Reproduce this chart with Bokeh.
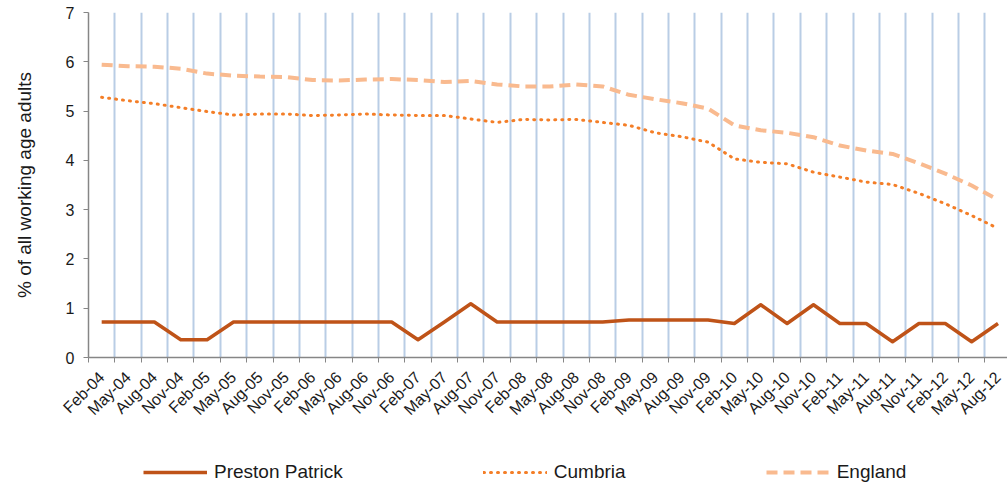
from bokeh.plotting import figure
from bokeh.layouts import column
from bokeh.models import FixedTicker, Legend, LegendItem, Range1d
from bokeh.embed import file_html
from bokeh.resources import INLINE

periods = ["Feb-04", "May-04", "Aug-04", "Nov-04", "Feb-05", "May-05", "Aug-05", "Nov-05",
           "Feb-06", "May-06", "Aug-06", "Nov-06", "Feb-07", "May-07", "Aug-07", "Nov-07",
           "Feb-08", "May-08", "Aug-08", "Nov-08", "Feb-09", "May-09", "Aug-09", "Nov-09",
           "Feb-10", "May-10", "Aug-10", "Nov-10", "Feb-11", "May-11", "Aug-11", "Nov-11",
           "Feb-12", "May-12", "Aug-12"]

preston_patrick = [0.72, 0.72, 0.72, 0.36, 0.36, 0.72, 0.72, 0.72, 0.72, 0.72, 0.72, 0.72,
                   0.36, 0.72, 1.09, 0.72, 0.72, 0.72, 0.72, 0.72, 0.76, 0.76, 0.76, 0.76,
                   0.69, 1.07, 0.69, 1.07, 0.69, 0.69, 0.32, 0.69, 0.69, 0.32, 0.69]

cumbria = [5.28, 5.21, 5.15, 5.07, 4.99, 4.92, 4.94, 4.94, 4.91, 4.92, 4.94, 4.92,
           4.91, 4.91, 4.84, 4.77, 4.83, 4.82, 4.83, 4.77, 4.71, 4.56, 4.48, 4.37,
           4.03, 3.96, 3.93, 3.76, 3.66, 3.56, 3.51, 3.33, 3.12, 2.88, 2.62]

england = [5.94, 5.91, 5.90, 5.86, 5.76, 5.72, 5.70, 5.69, 5.63, 5.62, 5.64, 5.65,
           5.63, 5.59, 5.61, 5.54, 5.50, 5.50, 5.54, 5.50, 5.33, 5.24, 5.16, 5.05,
           4.71, 4.61, 4.56, 4.47, 4.30, 4.20, 4.13, 3.94, 3.73, 3.49, 3.20]

series_names = ["Preston Patrick", "Cumbria", "England"]
y_ticks = [0, 1, 2, 3, 4, 5, 6, 7]

FONT = "Liberation Sans"
n = len(periods)
xs = [i + 0.5 for i in range(n)]
series_values = {"Preston Patrick": preston_patrick, "Cumbria": cumbria, "England": england}

STYLES = {
    "Preston Patrick": dict(line_color="#BF5318", line_width=3.5, line_join="round"),
    "Cumbria": dict(line_color="#F47E27", line_width=3, line_dash="1 6", line_cap="round"),
    "England": dict(line_color="#F9BA8F", line_width=4, line_dash="11 6"),
}

p = figure(width=1007, height=440, output_backend="svg", toolbar_location=None,
           x_range=Range1d(0, 34.86), y_range=Range1d(0, 7),
           min_border_left=88, min_border_right=0, min_border_top=12, min_border_bottom=83)
p.outline_line_color = None
p.background_fill_color = "white"

# x axis: labels at category centres, ticks at category boundaries
p.xaxis.ticker = FixedTicker(ticks=xs, minor_ticks=list(range(n + 1)))
p.xaxis.major_label_overrides = {x: lab for x, lab in zip(xs, periods)}
p.xaxis.major_label_orientation = 0.785398
p.xaxis.major_tick_out = 0
p.xaxis.major_tick_in = 0
p.xaxis.major_tick_line_color = None
p.xaxis.minor_tick_out = 5
p.xaxis.minor_tick_in = 0
p.xaxis.minor_tick_line_color = "#868686"
p.xaxis.minor_tick_line_width = 1
p.xaxis.axis_line_color = "#868686"
p.xaxis.axis_line_width = 1.5
p.xaxis.major_label_standoff = 12
p.xaxis.major_label_text_font = FONT
p.xaxis.major_label_text_font_size = "16px"
p.xaxis.major_label_text_color = "#1a1a1a"

# y axis
p.yaxis.ticker = FixedTicker(ticks=y_ticks)
p.yaxis.major_tick_out = 5
p.yaxis.major_tick_in = 0
p.yaxis.minor_tick_line_color = None
p.yaxis.major_tick_line_color = "#868686"
p.yaxis.axis_line_color = "#868686"
p.yaxis.axis_line_width = 1.5
p.yaxis.major_label_standoff = 9
p.yaxis.major_label_text_font = FONT
p.yaxis.major_label_text_font_size = "16px"
p.yaxis.major_label_text_color = "#1a1a1a"
p.yaxis.axis_label = "% of all working age adults"
p.yaxis.axis_label_text_font = FONT
p.yaxis.axis_label_text_font_size = "19px"
p.yaxis.axis_label_text_font_style = "normal"
p.yaxis.axis_label_text_color = "#1a1a1a"
p.yaxis.axis_label_standoff = 28

# grid
p.xgrid.ticker = FixedTicker(ticks=list(range(1, n)))
p.xgrid.grid_line_color = "#B9CDE5"
p.xgrid.grid_line_width = 2
p.ygrid.grid_line_color = None

for name in ["England", "Cumbria", "Preston Patrick"]:
    p.line(xs, series_values[name], **STYLES[name])

# legend strip below the chart (its lines lie outside the strip's visible y range,
# so only the legend keys show)
lg = figure(width=1007, height=48, output_backend="svg", toolbar_location=None,
            x_axis_type=None, y_axis_type=None,
            x_range=Range1d(0, 34.86), y_range=Range1d(-3, -2),
            min_border_left=88, min_border_right=0, min_border_top=0, min_border_bottom=0)
lg.outline_line_color = None
lg.xgrid.grid_line_color = None
lg.ygrid.grid_line_color = None
items = []
for name in series_names:
    r = lg.line(xs, series_values[name], **STYLES[name])
    items.append(LegendItem(label=name, renderers=[r]))

legend = Legend(items=items, orientation="horizontal", location=(55, 5), spacing=140,
                glyph_width=64, glyph_height=20, label_standoff=7, padding=0, margin=0,
                border_line_color=None, background_fill_alpha=0,
                label_text_font=FONT, label_text_font_size="19px",
                label_text_color="#1a1a1a")
lg.add_layout(legend, "center")

layout = column(p, lg, spacing=0)
open("out.html", "w").write(file_html(layout, INLINE))
